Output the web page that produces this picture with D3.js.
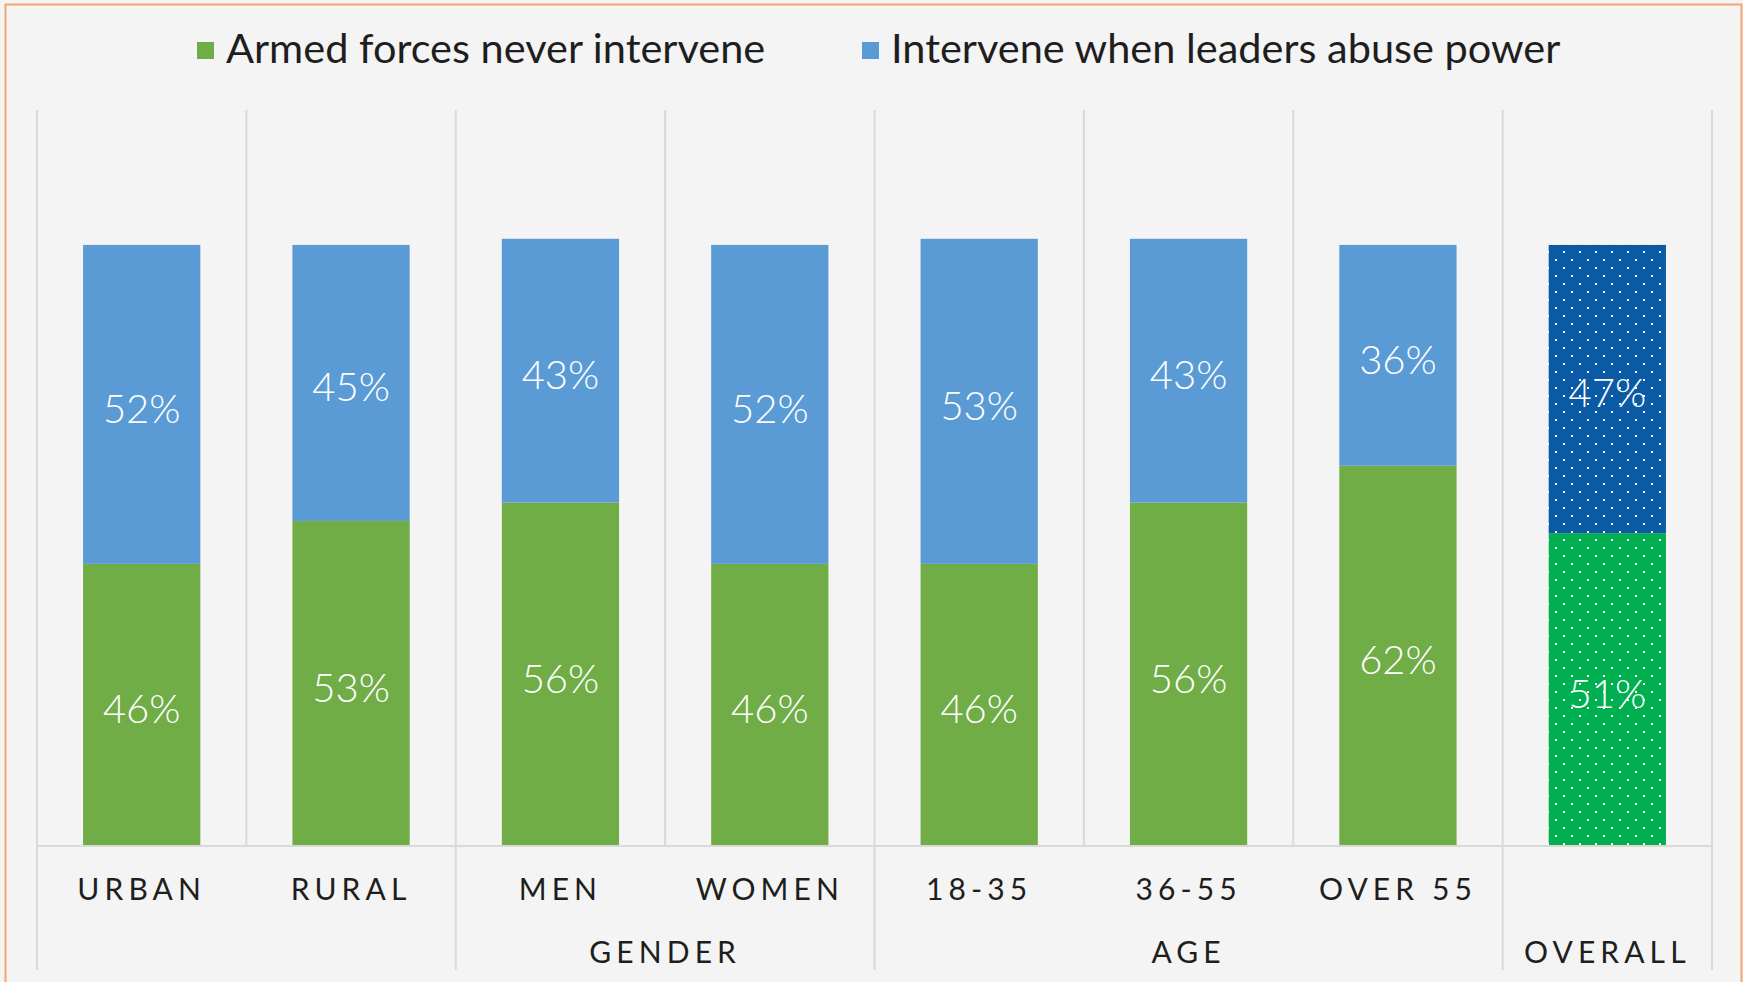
<!DOCTYPE html>
<html>
<head>
<meta charset="utf-8">
<script src="https://cdn.jsdelivr.net/npm/d3@7"></script>
<style>
	body { margin: 0; background: #f4f4f4; }
	svg { display: block; }
</style>
</head>
<body>
<script>
// datos
var categories = ["URBAN", "RURAL", "MEN", "WOMEN", "18-35", "36-55", "OVER 55", "OVERALL"];
var tickLabels = ["URBAN", "RURAL", "MEN", "WOMEN", "18-35", "36-55", "OVER 55", ""];
var groupLabels = ["", "", "GENDER", "GENDER", "AGE", "AGE", "AGE", "OVERALL"];
var seriesNames = ["Armed forces never intervene", "Intervene when leaders abuse power"];
var neverIntervene = [46, 53, 56, 46, 46, 56, 62, 51];
var interveneAbuse = [52, 45, 43, 52, 53, 43, 36, 47];

var width = 1743;
var height = 982;

var canvas = d3.select("body")
				.append("svg")
				.attr("width", width)
				.attr("height", height);

// patrones de puntos para la barra OVERALL
var defs = canvas.append("defs");
function dotPattern(id, color) {
	var p = defs.append("pattern")
				.attr("id", id)
				.attr("patternUnits", "userSpaceOnUse")
				.attr("width", 16)
				.attr("height", 16);
	p.append("rect").attr("width", 16).attr("height", 16).attr("fill", color);
	p.append("rect").attr("x", 3).attr("y", 3).attr("width", 2).attr("height", 2).attr("fill", "white");
	p.append("rect").attr("x", 11).attr("y", 11).attr("width", 2).attr("height", 2).attr("fill", "white");
}
dotPattern("dotsGreen", "#00b050");
dotPattern("dotsBlue", "#0b5aa5");

// fondo y borde naranja
canvas.append("rect")
		.attr("x", 0).attr("y", 0)
		.attr("width", width).attr("height", height)
		.attr("fill", "#f4f4f4");

canvas.append("rect")
		.attr("x", 5.5).attr("y", 4.5)
		.attr("width", 1736).attr("height", 990)
		.attr("fill", "none")
		.attr("stroke", "#f4a46c")
		.attr("stroke-width", 2);

// escalas
var x = d3.scaleBand()
			.domain(categories)
			.range([37, 1712])
			.paddingInner(0.44)
			.paddingOuter(0.22);

var y = d3.scaleLinear()
			.domain([0, 120])
			.range([846, 110]);

var step = x.step();
function leftEdge(c) { return x(c) - step * x.paddingInner() / 2; }

// lineas verticales de la cuadricula
var boundaries = categories.map(leftEdge);
boundaries.push(leftEdge(categories[categories.length - 1]) + step);

canvas.selectAll("line.grid")
		.data(boundaries)
		.enter()
		.append("line")
		.attr("class", "grid")
		.attr("x1", function(d){ return d; })
		.attr("x2", function(d){ return d; })
		.attr("y1", y(120))
		.attr("y2", y(0))
		.attr("stroke", "#d9d9d9")
		.attr("stroke-width", 2);

// separadores de grupo bajo el eje
var groupEdges = [0];
for (var i = 1; i < categories.length; i++) {
	if (groupLabels[i] !== groupLabels[i - 1]) groupEdges.push(i);
}
groupEdges.push(categories.length);

canvas.selectAll("line.sep")
		.data(groupEdges)
		.enter()
		.append("line")
		.attr("class", "sep")
		.attr("x1", function(d){ return boundaries[d]; })
		.attr("x2", function(d){ return boundaries[d]; })
		.attr("y1", y(0))
		.attr("y2", 970)
		.attr("stroke", "#d9d9d9")
		.attr("stroke-width", 2);

// barras apiladas
var rows = categories.map(function(c, i) {
	return {cat: c, never: neverIntervene[i], abuse: interveneAbuse[i]};
});
var stack = d3.stack().keys(["never", "abuse"]);
var series = stack(rows);
var colors = ["#70ad47", "#5b9bd5"];
var patterns = ["url(#dotsGreen)", "url(#dotsBlue)"];

var layers = canvas.selectAll("g.layer")
					.data(series)
					.enter()
					.append("g")
					.attr("class", "layer");

layers.selectAll("rect")
		.data(function(d, k){ return d.map(function(p){ p.k = k; return p; }); })
		.enter()
		.append("rect")
		.attr("x", function(d){ return x(d.data.cat); })
		.attr("y", function(d){ return y(d[1]); })
		.attr("width", x.bandwidth())
		.attr("height", function(d){ return y(d[0]) - y(d[1]); })
		.attr("fill", function(d){ return d.data.cat === "OVERALL" ? patterns[d.k] : colors[d.k]; });

// etiquetas de datos
layers.selectAll("text")
		.data(function(d){ return d; })
		.enter()
		.append("text")
		.attr("x", function(d){ return x(d.data.cat) + x.bandwidth() / 2; })
		.attr("y", function(d){ return (y(d[0]) + y(d[1])) / 2; })
		.attr("dy", "0.46em")
		.attr("text-anchor", "middle")
		.attr("fill", "white")
		.style("font-family", "Lato, 'Open Sans', sans-serif")
		.style("font-weight", 300)
		.style("font-size", "40px")
		.text(function(d){ return (d[1] - d[0]) + "%"; });

// eje x
canvas.append("line")
		.attr("x1", boundaries[0])
		.attr("x2", boundaries[boundaries.length - 1])
		.attr("y1", y(0))
		.attr("y2", y(0))
		.attr("stroke", "#d9d9d9")
		.attr("stroke-width", 2);

canvas.selectAll("text.tick")
		.data(tickLabels)
		.enter()
		.append("text")
		.attr("class", "tick")
		.attr("x", function(d, i){ return x(categories[i]) + x.bandwidth() / 2; })
		.attr("y", 900)
		.attr("text-anchor", "middle")
		.attr("fill", "#1e1e1e")
		.style("font-family", "Lato, 'Open Sans', sans-serif")
		.style("font-size", "30px")
		.style("letter-spacing", "0.17em")
		.text(function(d){ return d; });

// etiquetas de grupo
var groups = [];
groupLabels.forEach(function(g, i) {
	if (g === "") return;
	var last = groups[groups.length - 1];
	if (last && last.name === g) { last.to = i; }
	else { groups.push({name: g, from: i, to: i}); }
});

canvas.selectAll("text.group")
		.data(groups)
		.enter()
		.append("text")
		.attr("class", "group")
		.attr("x", function(d){ return (boundaries[d.from] + boundaries[d.to + 1]) / 2; })
		.attr("y", 963)
		.attr("text-anchor", "middle")
		.attr("fill", "#1e1e1e")
		.style("font-family", "Lato, 'Open Sans', sans-serif")
		.style("font-size", "30px")
		.style("letter-spacing", "0.17em")
		.text(function(d){ return d.name; });

// leyenda
var legendX = [197, 862];
var legend = canvas.selectAll("g.legend")
					.data(seriesNames)
					.enter()
					.append("g")
					.attr("class", "legend")
					.attr("transform", function(d, i){ return "translate(" + legendX[i] + ",0)"; });

legend.append("rect")
		.attr("x", 0)
		.attr("y", 42)
		.attr("width", 17)
		.attr("height", 17)
		.attr("fill", function(d, i){ return colors[i]; });

legend.append("text")
		.attr("x", 29)
		.attr("y", 63)
		.attr("fill", "#1e1e1e")
		.style("font-family", "Lato, 'Open Sans', sans-serif")
		.style("font-size", "41.5px")
		.text(function(d){ return d; });
</script>
</body>
</html>
